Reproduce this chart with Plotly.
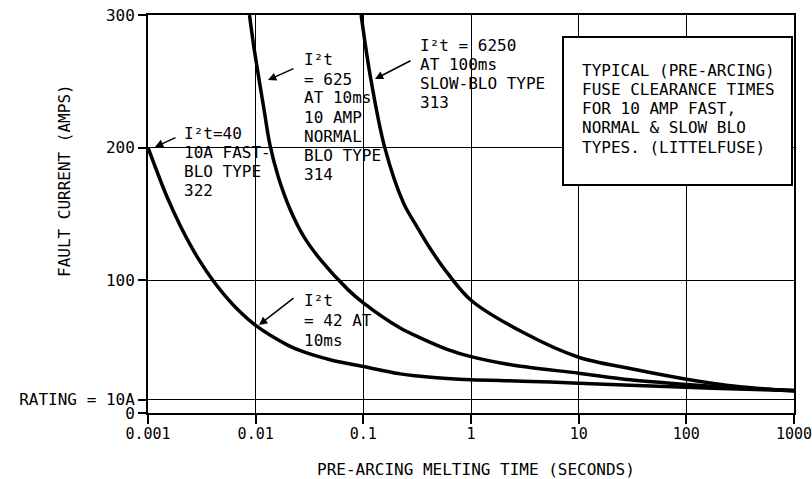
import plotly.graph_objects as go

# ---- data ----
fast_t = [0.001, 0.0015, 0.002, 0.0025, 0.003, 0.004, 0.005, 0.007, 0.01, 0.02, 0.028, 0.05,
          0.1, 0.22, 0.3, 0.6, 1, 3, 10, 30, 100, 300, 1000]
fast_i = [200, 163, 141, 126, 115, 100, 90, 77, 66, 51, 46, 40,
          35, 29.5, 28, 26, 25, 24, 22.5, 21, 19.5, 18, 17]

normal_t = [0.00876, 0.0097, 0.012, 0.0135, 0.0162, 0.021, 0.028, 0.0405, 0.072,
            0.1, 0.22, 0.33, 0.6, 1, 2.5, 10, 30, 100, 300, 1000]
normal_i = [300, 274, 228, 203, 178, 153, 133, 115, 93,
            83, 64, 57, 48, 42.5, 36, 30, 25, 21.5, 19, 17]

slow_t = [0.0954, 0.116, 0.157, 0.237, 0.317, 0.425, 0.61,
          1, 3, 10, 30, 100, 300, 1000]
slow_i = [300, 254, 201, 158, 140, 123, 105,
          85, 61, 42, 33.5, 25.5, 20, 16.5]

x_ticks = [0.001, 0.01, 0.1, 1, 10, 100, 1000]
x_labels = ["0.001", "0.01", "0.1", "1", "10", "100", "1000"]
y_ticks = [0, 10, 100, 200, 300]
y_labels = ["0", "RATING = 10A", "100", "200", "300"]

FONT = "DejaVu Sans Mono"

# plot-area frame in page pixels
L, R, T, B = 148, 794, 15, 413
W, H = R - L, B - T
FIG_W, FIG_H = 812, 479


def px(xp):
    return (xp - L) / W


def py(yp):
    return (B - yp) / H


fig = go.Figure()
for tt, ii in [(fast_t, fast_i), (normal_t, normal_i), (slow_t, slow_i)]:
    fig.add_trace(go.Scatter(x=tt, y=ii, mode="lines",
                             line=dict(color="black", width=3.5, shape="spline", smoothing=0.9),
                             hoverinfo="skip"))

axis_common = dict(showgrid=True, gridcolor="black", gridwidth=1.4,
                   showline=True, linecolor="black", linewidth=2, mirror=True,
                   ticks="outside", tickcolor="black", tickwidth=1.5,
                   zeroline=False, automargin=False, ticklabeloverflow="allow")

fig.update_xaxes(type="log", range=[-3, 3], tickvals=x_ticks, ticktext=x_labels,
                 ticklen=9, ticklabelstandoff=-3,
                 tickfont=dict(family=FONT, size=15, color="black"), **axis_common)
fig.update_yaxes(range=[0, 300], tickvals=y_ticks, ticktext=y_labels,
                 ticklen=8, tickfont=dict(family=FONT, size=16, color="black"), **axis_common)

fig.update_layout(width=FIG_W, height=FIG_H,
                  margin=dict(l=L, r=FIG_W - R, t=T, b=FIG_H - B, pad=0),
                  plot_bgcolor="white", paper_bgcolor="white", showlegend=False,
                  font=dict(family=FONT, size=16, color="black"))

# info box
fig.add_shape(type="rect", xref="paper", yref="paper",
              x0=px(563), x1=px(792), y0=py(185), y1=py(37),
              line=dict(color="black", width=2), fillcolor="white", layer="above")


def add_lines(lines, left, first_y, step):
    for k, s in enumerate(lines):
        fig.add_annotation(text=s, xref="paper", yref="paper",
                           x=px(left), y=py(first_y + k * step),
                           xanchor="left", yanchor="middle", showarrow=False,
                           font=dict(family=FONT, size=16, color="black"))


add_lines(["TYPICAL (PRE-ARCING)", "FUSE CLEARANCE TIMES", "FOR 10 AMP FAST,",
           "NORMAL &amp; SLOW BLO", "TYPES. (LITTELFUSE)"], 580, 70, 19.3)
add_lines(["I²t=40", "10A FAST-", "BLO TYPE", "322"], 182, 133, 19.3)
add_lines(["I²t", "= 625", "AT 10ms", "10 AMP", "NORMAL", "BLO TYPE", "314"], 302, 60, 19.0)
add_lines(["I²t = 6250", "AT 100ms", "SLOW-BLO TYPE", "313"], 418, 45, 19.3)
add_lines(["I²t", "= 42 AT", "10ms"], 302, 300, 20)


def add_arrow(head_x, head_y, tail_x, tail_y):
    fig.add_annotation(text="", xref="paper", yref="paper",
                       x=px(head_x), y=py(head_y),
                       ax=tail_x - head_x, ay=tail_y - head_y,
                       showarrow=True, arrowhead=2, arrowsize=1.1, arrowwidth=1.5,
                       arrowcolor="black", standoff=0)


add_arrow(155, 147, 177, 137)
add_arrow(268, 80, 295, 68)
add_arrow(375, 79, 412, 60)
add_arrow(259, 325, 295, 297)

# axis titles
fig.add_annotation(text="FAULT CURRENT (AMPS)", xref="paper", yref="paper",
                   x=px(64), y=py(181), textangle=-90, showarrow=False,
                   xanchor="center", yanchor="middle",
                   font=dict(family=FONT, size=16, color="black"))
fig.add_annotation(text="PRE-ARCING MELTING TIME (SECONDS)", xref="paper", yref="paper",
                   x=px(476), y=py(469), showarrow=False,
                   xanchor="center", yanchor="middle",
                   font=dict(family=FONT, size=16, color="black"))

# remove the default page margin so the 812x479 figure fills the window exactly
fig.write_html("out.html", config={"displayModeBar": False},
               post_script="document.body.style.margin='0px';document.body.style.overflow='hidden';")
